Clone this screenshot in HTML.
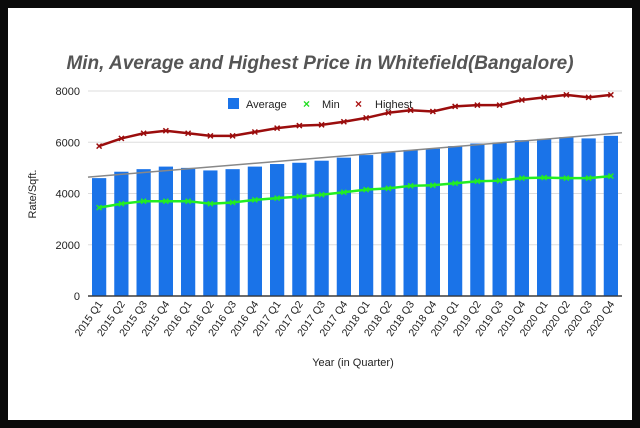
<!DOCTYPE html>
<html><head><meta charset="utf-8"><style>
html,body{margin:0;padding:0;background:#000;}
svg{display:block;font-family:"Liberation Sans",sans-serif;}
</style></head><body>
<svg id="c" width="640" height="428">
<rect x="0" y="0" width="640" height="428" fill="#0a0a0a"/>
<rect x="8" y="8" width="624" height="412" fill="#fff"/>
<text x="320" y="69" text-anchor="middle" font-size="19" font-weight="bold" font-style="italic" fill="#555">Min, Average and Highest Price in Whitefield(Bangalore)</text>
<text x="36" y="194" text-anchor="middle" font-size="11" fill="#222" transform="rotate(-90 36 194)">Rate/Sqft.</text>
<text x="353" y="366" text-anchor="middle" font-size="11" fill="#222">Year (in Quarter)</text>
<g id="legend">
<rect x="228" y="98" width="11" height="11" fill="#1a73e8"/>
<text x="246" y="108" font-size="11" fill="#222">Average</text>
<text x="303" y="108" font-size="12" fill="#22dd22" font-weight="bold">×</text>
<text x="322" y="108" font-size="11" fill="#222">Min</text>
<text x="355" y="108" font-size="12" fill="#aa1111" font-weight="bold">×</text>
<text x="375" y="108" font-size="11" fill="#222">Highest</text>
</g>
</svg>
<script>
const categories=["2015 Q1","2015 Q2","2015 Q3","2015 Q4","2016 Q1","2016 Q2","2016 Q3","2016 Q4","2017 Q1","2017 Q2","2017 Q3","2017 Q4","2018 Q1","2018 Q2","2018 Q3","2018 Q4","2019 Q1","2019 Q2","2019 Q3","2019 Q4","2020 Q1","2020 Q2","2020 Q3","2020 Q4"];
const averageValues=[4600,4850,4950,5050,5000,4900,4950,5050,5150,5200,5280,5400,5500,5600,5700,5750,5850,5950,5980,6080,6130,6200,6150,6250];
const minValues=[3450,3600,3700,3700,3700,3600,3650,3750,3820,3880,3950,4050,4150,4200,4300,4320,4400,4480,4500,4600,4620,4600,4600,4680];
const highestValues=[5850,6150,6350,6450,6350,6250,6250,6400,6550,6650,6680,6800,6950,7150,7250,7200,7400,7450,7450,7650,7750,7850,7750,7850];
const yTicks=[0,2000,4000,6000,8000];
const trendStart=4640, trendEnd=6370;
const svg=document.getElementById('c');
const NS='http://www.w3.org/2000/svg';
const L=88,R=622,B=296,T=91,yMax=8000;
const step=(R-L)/categories.length;
const x=i=>L+step*(i+0.5);
const y=v=>B-(v/yMax)*(B-T);
function mk(tag,attrs,parent){const e=document.createElementNS(NS,tag);for(const k in attrs)e.setAttribute(k,attrs[k]);(parent||svg).appendChild(e);return e;}
yTicks.forEach(t=>{
  const g=mk('line',{x1:L,x2:R,y1:y(t),y2:y(t),stroke:t===0?'#333':'#ddd','stroke-width':t===0?1.2:1});
  
  
  const tx=mk('text',{x:L-8,y:y(t)+4,'text-anchor':'end','font-size':11,fill:'#222'});
  tx.textContent=t;
  
  
});
const bw=step*0.64;
averageValues.forEach((v,i)=>{
  const r=mk('rect',{x:x(i)-bw/2,y:y(v),width:bw,height:B-y(v),fill:'#1a73e8'});
  
  
});
const ax=mk('line',{x1:L,x2:R,y1:B,y2:B,stroke:'#333','stroke-width':1.2});


const tr=mk('line',{x1:L,x2:R,y1:y(trendStart),y2:y(trendEnd),stroke:'#888','stroke-width':1.5});


function series(vals,color,name){
  const p=mk('polyline',{points:vals.map((v,i)=>x(i)+','+y(v)).join(' '),fill:'none',stroke:color,'stroke-width':2.5});
  
  
  vals.forEach((v,i)=>{
    const m=mk('path',{d:`M${x(i)-2.5},${y(v)-2.5}L${x(i)+2.5},${y(v)+2.5}M${x(i)+2.5},${y(v)-2.5}L${x(i)-2.5},${y(v)+2.5}`,stroke:color,'stroke-width':1.5});
    
    
  });
}
series(minValues,'#22ee22','min');
series(highestValues,'#9b0d0d','highest');
categories.forEach((c,i)=>{
  const t=mk('text',{x:x(i)+4,y:B+8,'text-anchor':'end','font-size':10.5,fill:'#222',transform:`rotate(-55 ${x(i)+4} ${B+8})`});
  t.textContent=c;
  
  
});
</script>
</body></html>
